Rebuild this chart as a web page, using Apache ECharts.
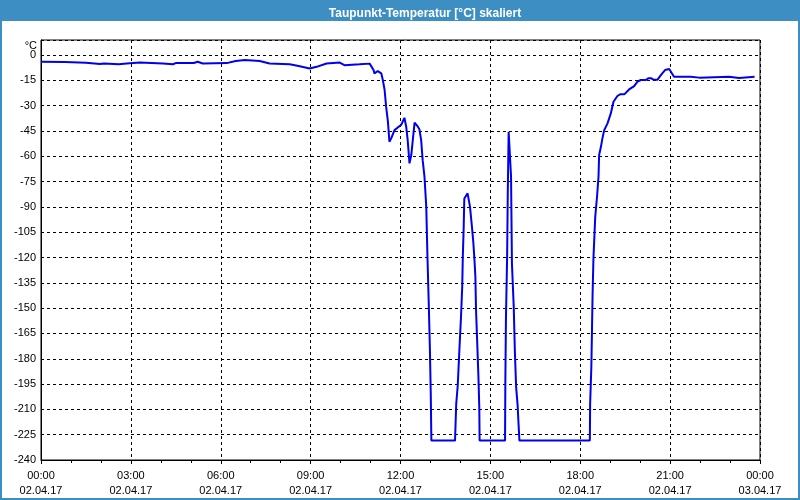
<!DOCTYPE html>
<html>
<head>
<meta charset="utf-8">
<script src="https://cdn.jsdelivr.net/npm/echarts@6/dist/echarts.min.js"></script>
<style>
html,body{margin:0;padding:0;background:#fff;}
#chart{width:800px;height:500px;}
</style>
</head>
<body>
<div id="chart"></div>
<script>
// time in hours since 02.04.17 00:00
const hours = [0,0.8,0.85,1.5,1.55,1.97,2.1,2.6,2.86,3.3,4.07,4.4,4.5,5.1,5.23,5.4,6.2,6.5,6.8,7.3,7.63,8.3,8.6,8.97,9.2,9.53,9.97,10.13,10.63,10.97,
11.1,11.13,11.24,11.3,11.36,11.41,11.47,11.52,11.58,11.63,11.69,11.8,11.91,12.02,12.13,12.19,12.24,12.3,12.36,12.41,12.47,12.58,12.63,12.69,12.74,12.8,12.86,12.9,12.94,12.98,13.01,13.03,
13.82,13.86,13.91,13.97,14.02,14.06,14.08,14.11,14.13,14.24,14.3,14.32,14.38,14.43,14.47,14.5,14.52,14.56,14.6,14.63,14.64,
15.49,15.5,15.52,15.56,15.58,15.61,15.66,15.69,15.72,15.78,15.82,15.86,15.91,15.94,15.97,
18.32,18.33,18.37,18.39,18.41,18.44,18.5,18.56,18.61,18.63,18.69,18.74,18.8,18.91,19.02,19.11,19.24,19.33,19.47,19.63,19.8,19.91,20.02,20.19,20.28,20.36,20.44,20.58,20.69,20.83,20.97,21.02,21.13,21.69,21.74,21.97,22.02,22.97,23.0,23.3,23.33,23.82];
const dewPoint = [-4,-4.2,-4.5,-4.6,-5.5,-5.3,-5,-5.5,-5,-4.5,-5,-5.5,-4.8,-4.7,-4,-5,-4.8,-3.5,-3,-3.5,-5,-5.5,-6.5,-8,-7,-5,-4.5,-6,-5.5,-5.1,
-8.9,-10.9,-9.5,-8.9,-10.9,-14.8,-20.8,-30.6,-39.5,-51.4,-49.4,-44.5,-42.9,-41.5,-37.2,-42.5,-50.4,-64.2,-59.3,-50.4,-40.1,-42.5,-44,-50.4,-62.3,-72,-90,-119.6,-145.3,-173,-200.6,-228.5,
-228.5,-206.7,-196,-173,-155,-137.5,-119.6,-101.8,-85,-82,-81,-90,-100.9,-110.8,-121.7,-131.5,-150.3,-170,-190,-208.7,-228.5,
-228.5,-193,-156,-118.7,-83,-45.5,-46.4,-72,-123.7,-149.4,-177,-196.8,-207.7,-218.6,-228.5,
-228.5,-206.7,-185,-165,-143.4,-120.6,-95.9,-84,-72,-59.3,-54.4,-49.4,-44.5,-40.5,-34.6,-27.7,-24.3,-23.3,-23.3,-20.4,-18.4,-15.8,-14.8,-14.8,-13.7,-13.7,-14.6,-14.6,-11.9,-8.9,-8.3,-9.3,-12.9,-12.9,-13.4,-13.4,-12.9,-12.9,-13.6,-13.6,-12.9,-12.9];
const timeLabels = ['00:00','03:00','06:00','09:00','12:00','15:00','18:00','21:00','00:00'];
const dateLabels = ['02.04.17','02.04.17','02.04.17','02.04.17','02.04.17','02.04.17','02.04.17','02.04.17','03.04.17'];
const titleText = 'Taupunkt-Temperatur [°C] skaliert';
const unitText = '°C';

const BLUE = '#3d8fc3';
const chart = echarts.init(document.getElementById('chart'), null, {renderer:'canvas'});
const font = 'Liberation Sans, Arial, sans-serif';
chart.setOption({
  animation:false,
  backgroundColor:'#ffffff',
  title:{text:titleText, left:420, top:3, textAlign:'center',
    textStyle:{color:'#fff', fontSize:12, fontWeight:'bold', fontFamily:font}},
  graphic:[
    {type:'rect', shape:{x:0,y:0,width:800,height:21}, style:{fill:BLUE}, z:-1},
    {type:'rect', shape:{x:0,y:0,width:2,height:500}, style:{fill:BLUE}, z:-1},
    {type:'rect', shape:{x:798,y:0,width:2,height:500}, style:{fill:BLUE}, z:-1},
    {type:'rect', shape:{x:0,y:498,width:800,height:2}, style:{fill:BLUE}, z:-1},
    {type:'text', x:37, y:46, style:{text:unitText, fill:'#000', font:'11px '+font, textAlign:'right', textVerticalAlign:'middle'}}
  ],
  grid:{left:41, right:40, top:40, bottom:40, show:true, borderColor:'#000', borderWidth:1, backgroundColor:'transparent'},
  xAxis:{type:'value', min:0, max:24, interval:3,
    axisLine:{show:true, onZero:false, lineStyle:{color:'#000', width:1}},
    axisTick:{show:true, length:4, lineStyle:{color:'#000'}},
    minorTick:{show:true, splitNumber:3, length:3, lineStyle:{color:'#000'}},
    splitLine:{show:true, lineStyle:{color:'#000', type:[3,3], width:1}},
    axisLabel:{margin:8, color:'#000', fontSize:11, fontFamily:font, lineHeight:15,
      formatter:function(v){const i=Math.round(v/3); return timeLabels[i]+'\n'+dateLabels[i];}}
  },
  yAxis:{type:'value', min:-240, max:8.9, interval:15,
    axisLine:{show:true, onZero:false, lineStyle:{color:'#000', width:1}},
    axisTick:{show:false},
    splitLine:{show:true, lineStyle:{color:'#000', type:[3,3], width:1}},
    axisLabel:{margin:5, color:'#000', fontSize:11, fontFamily:font, showMaxLabel:false,
      formatter:function(v){return (Math.abs(v%15)<1e-6)?String(v):'';}}
  },
  series:[{type:'line', data:hours.map((h,i)=>[h,dewPoint[i]]), showSymbol:false, symbol:'none',
    lineStyle:{color:'#0000ee', width:2}, z:5}]
});
</script>
</body>
</html>
